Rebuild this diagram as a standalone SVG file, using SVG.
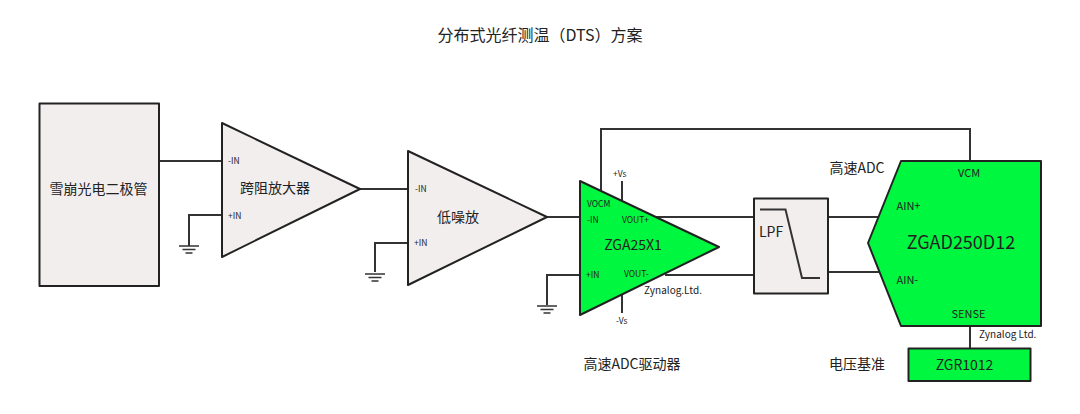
<svg xmlns="http://www.w3.org/2000/svg" width="1080" height="414" viewBox="0 0 1080 414">
<style>
text{font-family:"Noto Sans CJK SC","Noto Sans",sans-serif;fill:#222}
.n{fill:#f2eeee;stroke:#222;stroke-width:2;stroke-linejoin:round}
.g{fill:#00f73f;stroke:#222;stroke-width:2;stroke-linejoin:round}
.w{fill:none;stroke:#333;stroke-width:2}
.s{font-size:8.5px}.m{font-size:14px}.l{font-size:14px;text-anchor:middle}
</style>
<defs><g id="gnd"><path d="M-10 0H10M-6.500 3.500H6.500M-3.500 7H3.500" fill="none" stroke="#333" stroke-width="1.500"/></g></defs>
<rect width="1080" height="414" fill="#fff"/>
<g id="connectors" class="w">
<path d="M159 161H222"/>
<path d="M222 215H189V246"/>
<path d="M360 189H408"/>
<path d="M408 243H375V272"/>
<path d="M547 217H580"/>
<path d="M580 275H547V305"/>
<path d="M601 192V129H970V161"/>
<path d="M622 181V201"/>
<path d="M622 294V313"/>
<path d="M656 217H754"/>
<path d="M665 275H754"/>
<path d="M828 217H879"/>
<path d="M828 272H879"/>
<path d="M970 326V348"/>
</g>
<use href="#gnd" x="189" y="246"/>
<use href="#gnd" x="375" y="274"/>
<use href="#gnd" x="547" y="306"/>
<text x="540" y="41" class="l" style="font-size:16px">分布式光纤测温（DTS）方案</text>
<g id="apd"><rect x="39.500" y="103.500" width="119.500" height="182.500" class="n"/><text x="98.500" y="194" class="l">雪崩光电二极管</text></g>
<g id="tia"><path d="M222 123L360 189L222 257Z" class="n"/><text x="228" y="164" class="s">-IN</text><text x="228" y="219" class="s">+IN</text><text x="275" y="193" class="l">跨阻放大器</text></g>
<g id="lna"><path d="M408 151L547 217L408 285Z" class="n"/><text x="415" y="192" class="s">-IN</text><text x="414" y="246" class="s">+IN</text><text x="458" y="222" class="l">低噪放</text></g>
<g id="driver"><path d="M580 181L719 247L580 315Z" class="g"/>
<text x="587" y="207" class="s">VOCM</text><text x="587" y="223" class="s">-IN</text><text x="622" y="223" class="s">VOUT+</text><text x="586" y="278" class="s">+IN</text><text x="624" y="277" class="s">VOUT-</text>
<text x="633" y="250" class="l">ZGA25X1</text>
<text x="613" y="177" class="s">+Vs</text><text x="616" y="324" class="s">-Vs</text>
<text x="644" y="294" style="font-size:10px">Zynalog.Ltd.</text>
<text x="632" y="369" class="l">高速ADC驱动器</text></g>
<g id="lpf"><rect x="754" y="198.500" width="74" height="95" class="n"/><path d="M760 209.500H785.500L802 278H820" class="w"/><text x="759" y="237" class="m">LPF</text></g>
<g id="adc"><path d="M901 161H1041V326H901L868 243Z" class="g"/>
<text x="969" y="177" text-anchor="middle" style="font-size:11px">VCM</text><text x="896.500" y="210" style="font-size:11px">AIN+</text><text x="896.500" y="284" style="font-size:11px">AIN-</text><text x="968.500" y="318" text-anchor="middle" style="font-size:11px">SENSE</text>
<text x="961" y="249" class="l" style="font-size:18px">ZGAD250D12</text>
<text x="857" y="173" class="l">高速ADC</text>
<text x="979" y="338" style="font-size:10px">Zynalog Ltd.</text></g>
<g id="ref"><rect x="908.500" y="348.500" width="122" height="32.500" class="g"/><text x="964.500" y="370" class="l">ZGR1012</text><text x="857" y="369" class="l">电压基准</text></g>
</svg>
